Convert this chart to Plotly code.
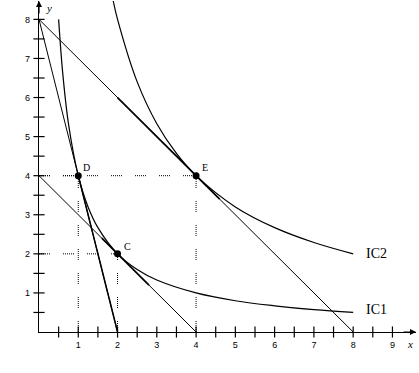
import plotly.graph_objects as go

# Indifference curves
ic1_x = [0.5, 0.6, 0.75, 1, 1.25, 1.5, 2, 2.5, 3, 4, 5, 6, 7, 8]
ic1_y = [8, 6.67, 5.33, 4, 3.2, 2.67, 2, 1.6, 1.33, 1, 0.8, 0.67, 0.57, 0.5]
ic2_x = [1.89, 2, 2.5, 3, 3.5, 4, 5, 6, 7, 8]
ic2_y = [8.47, 8, 6.4, 5.33, 4.57, 4, 3.2, 2.67, 2.29, 2]

# Budget lines (endpoints)
bl_outer_x = [0, 8]; bl_outer_y = [8, 0]
bl_inner_x = [0, 4]; bl_inner_y = [4, 0]
bl_steep_x = [0, 2]; bl_steep_y = [8, 0]
# emphasised segments
seg_e_x = [2, 4.6]; seg_e_y = [6, 3.4]
seg_d_x = [1, 2]; seg_d_y = [4, 0]
seg_c_x = [1.6, 2.8]; seg_c_y = [2.4, 1.2]

# Points
pt_names = ["D", "C", "E"]
pt_x = [1, 2, 4]
pt_y = [4, 2, 4]

x_tickvals = [1, 2, 3, 4, 5, 6, 7, 8, 9]
y_tickvals = [1, 2, 3, 4, 5, 6, 7, 8]
x_minor = [0.5, 1, 1.5, 2, 2.5, 3, 3.5, 4, 4.5, 5, 5.5, 6, 6.5, 7, 7.5, 8, 8.5, 9]
y_minor = [0.5, 1, 1.5, 2, 2.5, 3, 3.5, 4, 4.5, 5, 5.5, 6, 6.5, 7, 7.5, 8]

DOT = "1px,1px,1px,1px,1px,1px,1px,1px,1px,1px,1px,13px"
black = "black"

fig = go.Figure()

def line(x, y, w=1, dash=None, shape="linear"):
    fig.add_trace(go.Scatter(x=x, y=y, mode="lines",
                             line=dict(color=black, width=w, dash=dash, shape=shape),
                             hoverinfo="skip", showlegend=False, cliponaxis=True))

# dotted guides
for px, py in zip(pt_x, pt_y):
    line([0, px], [py, py], 1, DOT)
    line([px, px], [0, py], 1, DOT)

line(bl_outer_x, bl_outer_y, 1)
line(bl_inner_x, bl_inner_y, 1)
line(bl_steep_x, bl_steep_y, 1)
line(seg_e_x, seg_e_y, 1.7)
line(seg_d_x, seg_d_y, 1.5)
line(seg_c_x, seg_c_y, 1.7)
line(ic1_x, ic1_y, 1.2, shape="spline")
line(ic2_x, ic2_y, 1.2, shape="spline")

fig.add_trace(go.Scatter(x=pt_x, y=pt_y, mode="markers",
                         marker=dict(color=black, size=7),
                         hoverinfo="skip", showlegend=False))

# tick marks crossing axes
fig.add_trace(go.Scatter(x=x_minor, y=[0] * len(x_minor), mode="markers",
                         marker=dict(symbol="line-ns-open", size=8, color=black,
                                     line=dict(color=black, width=1.2)),
                         hoverinfo="skip", showlegend=False, cliponaxis=False))
fig.add_trace(go.Scatter(x=[0] * len(y_minor), y=y_minor, mode="markers",
                         marker=dict(symbol="line-ew-open", size=8, color=black,
                                     line=dict(color=black, width=1.2)),
                         hoverinfo="skip", showlegend=False, cliponaxis=False))

anns = []
label_off = {"D": (0.08, 0.21), "C": (0.12, 0.2), "E": (0.1, 0.21)}
for n, px, py in zip(pt_names, pt_x, pt_y):
    dx, dy = label_off[n]
    anns.append(dict(x=px + dx, y=py + dy, text=n, showarrow=False, xanchor="left",
                     font=dict(family="Liberation Serif", size=10, color=black)))
anns.append(dict(x=8.27, y=ic2_y[-1], text="IC2", showarrow=False, xanchor="left",
                 font=dict(family="Liberation Serif", size=14, color=black)))
anns.append(dict(x=8.27, y=ic1_y[-1] + 0.08, text="IC1", showarrow=False, xanchor="left",
                 font=dict(family="Liberation Serif", size=14, color=black)))
anns.append(dict(x=0.12, y=8.3, text="<i>y</i>", showarrow=False, xanchor="left",
                 font=dict(family="Liberation Serif", size=11, color=black)))
anns.append(dict(x=1, xref="paper", y=0, yref="paper", yshift=-12, xshift=-1,
                 text="<i>x</i>", showarrow=False, xanchor="right", yanchor="middle",
                 font=dict(family="Liberation Serif", size=11, color=black)))
# axis arrows
anns.append(dict(x=1, y=0, xref="paper", yref="paper", ax=-14, ay=0,
                 showarrow=True, arrowhead=2, arrowsize=1, arrowwidth=1.2,
                 arrowcolor=black, text=""))
anns.append(dict(x=0, y=1, xref="paper", yref="paper", ax=0, ay=14,
                 showarrow=True, arrowhead=2, arrowsize=1, arrowwidth=1.2,
                 arrowcolor=black, text=""))

fig.update_layout(
    width=419, height=373,
    margin=dict(l=39, r=3, t=1, b=41, autoexpand=False),
    paper_bgcolor="white", plot_bgcolor="white",
    annotations=anns,
    xaxis=dict(range=[0, 9.6], showgrid=False, zeroline=False, showline=True,
               linecolor=black, linewidth=1.2, tickvals=x_tickvals, ticks="",
               ticklabelstandoff=4, automargin=False,
               tickfont=dict(family="Liberation Sans", size=9, color=black)),
    yaxis=dict(range=[0, 8.47], showgrid=False, zeroline=False, showline=True,
               linecolor=black, linewidth=1.2, tickvals=y_tickvals, ticks="",
               ticklabelstandoff=6, automargin=False,
               tickfont=dict(family="Liberation Sans", size=9, color=black)),
)

fig.write_html("out.html", config={"displayModeBar": False},
               post_script="document.body.style.margin='0';document.body.style.overflow='hidden';")
